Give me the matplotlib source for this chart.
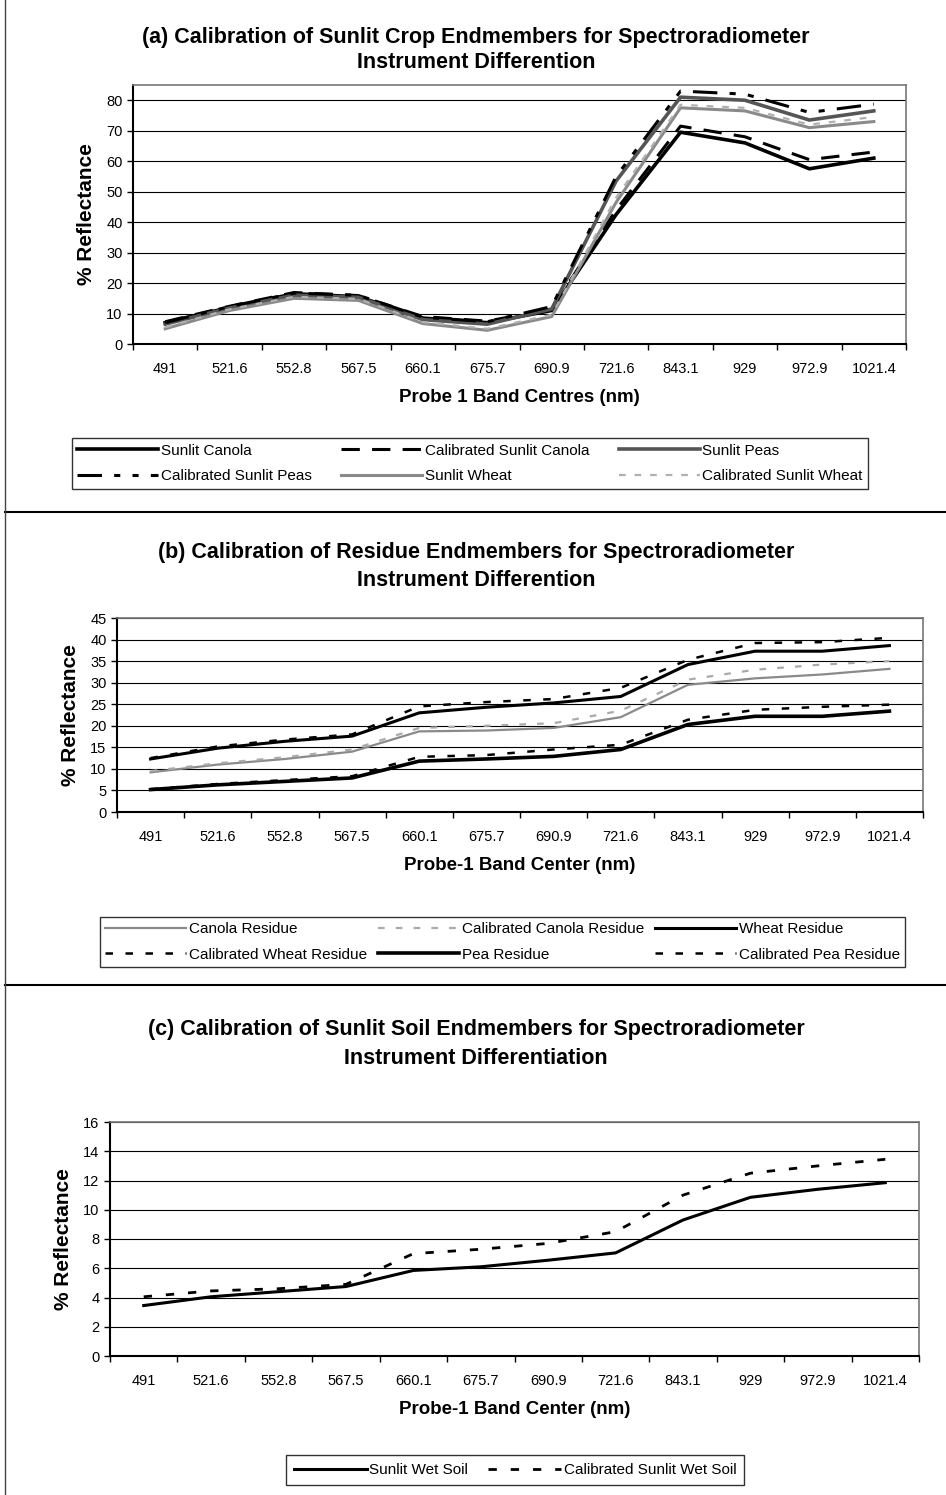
import numpy as np
import matplotlib
matplotlib.use("Agg")
import matplotlib.pyplot as plt
from matplotlib.lines import Line2D

plt.rcParams['font.family'] = ['Liberation Sans', 'DejaVu Sans']

# band centres (categorical x axis)
bands = ['491', '521.6', '552.8', '567.5', '660.1', '675.7',
         '690.9', '721.6', '843.1', '929', '972.9', '1021.4']

# (a) sunlit crop endmembers
sunlit_canola = [7.0, 12.0, 16.5, 15.5, 8.5, 7.0, 11.0, 42.5, 69.5, 66.0, 57.5, 61.0]
cal_sunlit_canola = [7.3, 12.4, 16.9, 15.9, 9.0, 7.5, 11.5, 44.0, 71.5, 68.0, 60.5, 63.0]
sunlit_peas = [6.5, 11.8, 16.0, 15.3, 8.0, 6.5, 11.5, 53.5, 81.0, 80.0, 73.5, 76.5]
cal_sunlit_peas = [7.0, 12.3, 16.7, 16.0, 8.8, 7.3, 12.3, 55.0, 83.0, 82.0, 76.0, 78.7]
sunlit_wheat = [5.0, 11.0, 15.0, 14.3, 6.7, 4.5, 9.0, 46.5, 77.5, 76.5, 71.0, 73.0]
cal_sunlit_wheat = [5.5, 11.4, 15.5, 14.8, 7.2, 5.0, 9.6, 48.0, 78.5, 77.5, 72.0, 74.5]

# (b) residue endmembers
canola_res = [9.2, 11.0, 12.3, 14.0, 18.7, 18.9, 19.5, 22.0, 29.5, 31.0, 31.9, 33.2]
cal_canola_res = [9.5, 11.3, 12.7, 14.5, 19.5, 20.0, 20.6, 23.5, 30.7, 33.0, 34.2, 35.0]
wheat_res = [12.3, 14.8, 16.4, 17.6, 23.0, 24.3, 25.3, 26.8, 34.2, 37.3, 37.3, 38.6]
cal_wheat_res = [12.5, 15.2, 16.8, 18.0, 24.5, 25.5, 26.2, 28.8, 35.3, 39.2, 39.4, 40.4]
pea_res = [5.2, 6.3, 7.1, 7.9, 11.8, 12.3, 12.9, 14.5, 20.3, 22.2, 22.2, 23.4]
cal_pea_res = [5.3, 6.5, 7.4, 8.3, 12.8, 13.2, 14.5, 15.6, 21.4, 23.7, 24.4, 24.9]

# (c) sunlit soil
wet_soil = [3.45, 4.05, 4.4, 4.75, 5.85, 6.1, 6.55, 7.05, 9.3, 10.85, 11.4, 11.85]
cal_wet_soil = [4.05, 4.45, 4.6, 4.9, 7.0, 7.3, 7.7, 8.5, 11.0, 12.5, 13.0, 13.45]

W, H = 946, 1495
fig = plt.figure(figsize=(W / 100, H / 100), dpi=100)


def px_axes(l, t, r, b):
    return fig.add_axes([l / W, 1 - b / H, (r - l) / W, (b - t) / H])


def style_axes(ax, ymax, ystep, xlabel):
    x = np.arange(len(bands))
    ax.set_xlim(-0.5, len(bands) - 0.5)
    ax.set_ylim(0, ymax)
    ax.set_xticks(x)
    ax.set_xticklabels(bands, fontsize=10.5)
    ax.set_xticks(np.arange(-0.5, len(bands)), minor=True)
    ax.tick_params(axis='x', which='major', length=0, pad=13)
    ax.tick_params(axis='x', which='minor', length=4, width=1, direction='out')
    ax.set_yticks(np.arange(0, ymax + 0.01, ystep))
    ax.tick_params(axis='y', labelsize=10.5, length=4, width=1, direction='out')
    ax.yaxis.grid(True, color='black', linewidth=0.8)
    ax.set_axisbelow(True)
    for s in ['top', 'right']:
        ax.spines[s].set_color('#777777')
        ax.spines[s].set_linewidth(1.2)
    for s in ['left', 'bottom']:
        ax.spines[s].set_color('black')
        ax.spines[s].set_linewidth(1.5)
    ax.set_ylabel('% Reflectance', fontsize=15, fontweight='bold', labelpad=7)
    ax.set_xlabel(xlabel, fontsize=13.5, fontweight='bold', labelpad=9)


def legend_box(handles, labels, l, t, r, b, ncol=3, fs=11, hl=5.3,
               expand=True, colsp=0.4, bpad=0.35):
    lg = fig.legend(handles, labels, loc='center',
                    bbox_to_anchor=(l / W, 1 - b / H, (r - l) / W, (b - t) / H),
                    mode='expand' if expand else None, ncol=ncol, fontsize=fs,
                    frameon=True, fancybox=False, edgecolor='black',
                    handlelength=hl, handletextpad=0.15, borderaxespad=0,
                    labelspacing=0.75, columnspacing=colsp, borderpad=bpad)
    lg.get_frame().set_linewidth(1.0)
    return lg


def title2(y1, y2, line1, line2):
    fig.text(476 / W, 1 - y1 / H, line1, ha='center', va='center',
             fontsize=15.5, fontweight='bold')
    fig.text(476 / W, 1 - y2 / H, line2, ha='center', va='center',
             fontsize=15.5, fontweight='bold')


x = np.arange(len(bands))
order = [0, 3, 1, 4, 2, 5]

# ---------------- panel (a)
ax1 = px_axes(133, 85, 906, 344)
series_a = [
    (sunlit_canola, 'Sunlit Canola', dict(color='black', lw=2.6, ls='-')),
    (cal_sunlit_canola, 'Calibrated Sunlit Canola', dict(color='black', lw=2.2, ls=(0, (6, 4)))),
    (sunlit_peas, 'Sunlit Peas', dict(color='#555555', lw=2.6, ls='-')),
    (cal_sunlit_peas, 'Calibrated Sunlit Peas', dict(color='black', lw=2.2, ls=(0, (8, 4, 2, 4, 2, 4)))),
    (sunlit_wheat, 'Sunlit Wheat', dict(color='#8a8a8a', lw=2.2, ls='-')),
    (cal_sunlit_wheat, 'Calibrated Sunlit Wheat', dict(color='#b0b0b0', lw=1.6, ls=(0, (3, 4)))),
]
hs, ls_ = [], []
for vals, lab, kw in series_a:
    h, = ax1.plot(x, vals, **kw)
    hs.append(h)
    ls_.append(lab)
style_axes(ax1, 85, 10, 'Probe 1 Band Centres (nm)')
title2(37, 63, '(a) Calibration of Sunlit Crop Endmembers for Spectroradiometer',
       'Instrument Differention')
legend_box([hs[i] for i in order], [ls_[i] for i in order], 72, 435, 868, 492)

# ---------------- panel (b)
ax2 = px_axes(117, 618, 923, 812)
series_b = [
    (canola_res, 'Canola Residue', dict(color='#8a8a8a', lw=1.6, ls='-')),
    (cal_canola_res, 'Calibrated Canola Residue', dict(color='#aaaaaa', lw=1.6, ls=(0, (3, 5)))),
    (wheat_res, 'Wheat Residue', dict(color='black', lw=2.2, ls='-')),
    (cal_wheat_res, 'Calibrated Wheat Residue', dict(color='black', lw=1.8, ls=(0, (3, 5)))),
    (pea_res, 'Pea Residue', dict(color='black', lw=2.6, ls='-')),
    (cal_pea_res, 'Calibrated Pea Residue', dict(color='black', lw=1.8, ls=(0, (3, 5)))),
]
hs, ls_ = [], []
for vals, lab, kw in series_b:
    h, = ax2.plot(x, vals, **kw)
    hs.append(h)
    ls_.append(lab)
style_axes(ax2, 45, 5, 'Probe-1 Band Center (nm)')
title2(553, 580, '(b) Calibration of Residue Endmembers for Spectroradiometer',
       'Instrument Differention')
legend_box([hs[i] for i in order], [ls_[i] for i in order], 100, 914, 905, 970)

# ---------------- panel (c)
ax3 = px_axes(110, 1122, 919, 1356)
h1, = ax3.plot(x, wet_soil, color='black', lw=2.2, ls='-')
h2, = ax3.plot(x, cal_wet_soil, color='black', lw=2.0, ls=(0, (3, 5)))
style_axes(ax3, 16, 2, 'Probe-1 Band Center (nm)')
title2(1030, 1058, '(c) Calibration of Sunlit Soil Endmembers for Spectroradiometer',
       'Instrument Differentiation')
legend_box([h1, h2], ['Sunlit Wet Soil', 'Calibrated Sunlit Wet Soil'],
           280, 1455, 750, 1485, ncol=2, hl=4.8, expand=False, colsp=1.3, bpad=0.5)

# panel separators and left border
for yy in [512, 985]:
    fig.add_artist(Line2D([5 / W, 1], [1 - yy / H] * 2, color='black', lw=1.5))
fig.add_artist(Line2D([5 / W] * 2, [0, 1], color='#444444', lw=1))

fig.savefig('out.png', dpi=100)
